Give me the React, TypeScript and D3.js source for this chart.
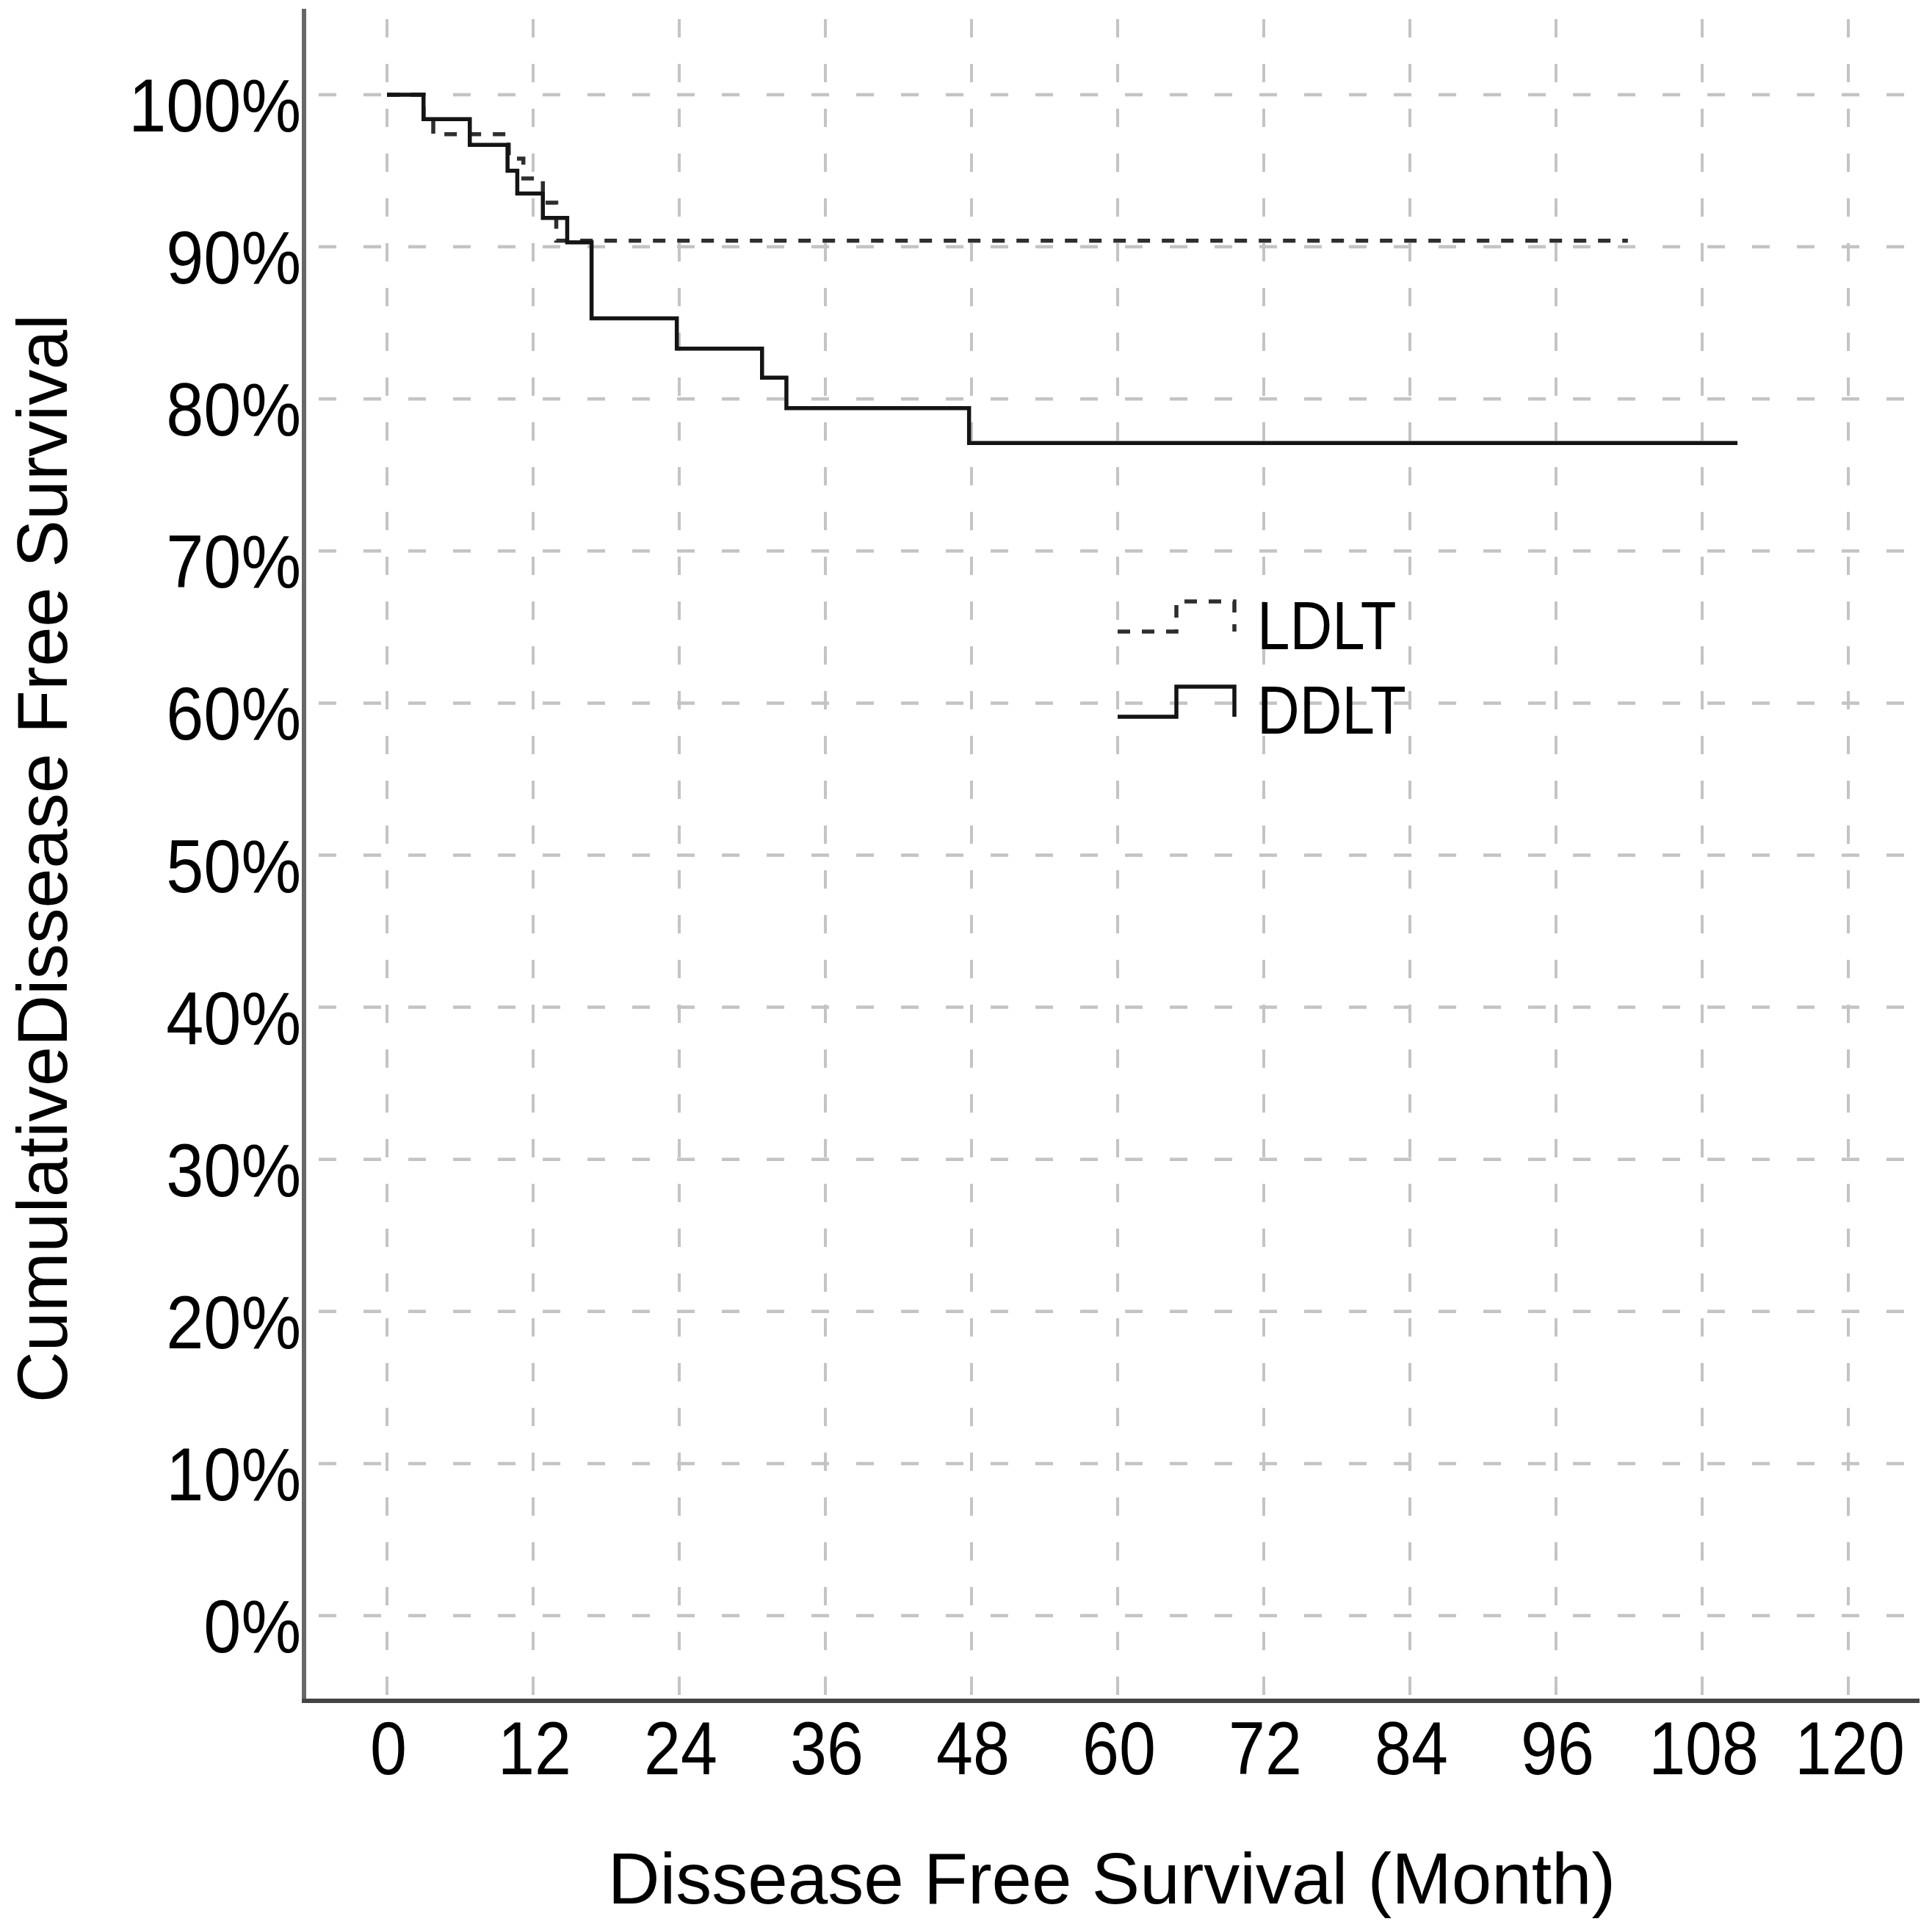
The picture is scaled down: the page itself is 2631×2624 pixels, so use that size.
import * as d3 from 'd3';
import React from 'react';

// time (months) at which each step starts, and survival (%) from that time on
const ldltMonths = [0, 3.0, 3.8, 10.0, 11.2, 12.8, 13.9, 101.9];
const ldltSurvival = [100, 98.4, 97.4, 95.8, 94.5, 92.9, 90.4, 90.4];

const ddltMonths = [0, 3.0, 6.8, 9.9, 10.7, 12.8, 14.8, 16.8, 23.8, 30.8, 32.8, 47.8, 110.9];
const ddltSurvival = [100, 98.4, 96.7, 95.0, 93.5, 91.9, 90.3, 85.3, 83.3, 81.4, 79.4, 77.1, 77.1];

const xTicks = [0, 12, 24, 36, 48, 60, 72, 84, 96, 108, 120];
const yTicks = [0, 10, 20, 30, 40, 50, 60, 70, 80, 90, 100];

const seriesNames = ['LDLT', 'DDLT'];
const xTitle = 'Dissease Free Survival (Month)';
const yTitle = 'CumulativeDissease Free Survival';

const W = 2631;
const H = 2624;
const frame = { left: 414, top: 12, right: 2614, bottom: 2316 };
const FONT = '"Liberation Sans", Arial, sans-serif';

const App = () => {
   const x = d3.scaleLinear().domain([0, 120]).range([527, 2517]);
   const y = d3.scaleLinear().domain([0, 100]).range([2200, 129]);

   const line = d3
      .line<[number, number]>()
      .x((d) => x(d[0]))
      .y((d) => y(d[1]))
      .curve(d3.curveStepAfter);

   const ldlt = ldltMonths.map((m, i) => [m, ldltSurvival[i]] as [number, number]);
   const ddlt = ddltMonths.map((m, i) => [m, ddltSurvival[i]] as [number, number]);

   // legend step symbols
   const legendStep = (y0: number) =>
      `M1522,${y0 + 41}H1602V${y0}H1681V${y0 + 41}`;

   return (
      <svg
         width={W}
         height={H}
         style={{ position: 'absolute', left: 0, top: 0, background: '#fff' }}
      >
         <rect x={0} y={0} width={W} height={H} fill="#fff" />

         {/* grid */}
         <g>
            {yTicks.map((t) => (
               <line
                  key={`h${t}`}
                  x1={frame.left + 4}
                  x2={frame.right}
                  y1={y(t)}
                  y2={y(t)}
                  stroke="#c4c4c4"
                  strokeWidth={4.5}
                  strokeDasharray="24 37"
                  strokeDashoffset={-16}
               />
            ))}
            {xTicks.map((t) => (
               <line
                  key={`v${t}`}
                  x1={x(t)}
                  x2={x(t)}
                  y1={frame.top + 14}
                  y2={frame.bottom}
                  stroke="#c4c4c4"
                  strokeWidth={4}
                  strokeDasharray="25 36"
               />
            ))}
         </g>

         {/* curves */}
         <path
            d={line(ldlt) ?? ''}
            fill="none"
            stroke="#2e2e2e"
            strokeWidth={5.5}
            strokeDasharray="17 16"
         />
         <path d={line(ddlt) ?? ''} fill="none" stroke="#141414" strokeWidth={5.5} />

         {/* axes */}
         <line
            x1={frame.left}
            x2={frame.left}
            y1={frame.top}
            y2={frame.bottom}
            stroke="#666"
            strokeWidth={6}
         />
         <line
            x1={frame.left - 3}
            x2={frame.right}
            y1={frame.bottom}
            y2={frame.bottom}
            stroke="#444"
            strokeWidth={6}
         />

         {/* y tick labels */}
         {yTicks.map((t) => (
            <g key={`yl${t}`} transform={`translate(410,${y(t) + 50}) scale(0.9,1)`}>
               <text fontFamily={FONT} fontSize={102} textAnchor="end" fill="#000">
                  {`${t}%`}
               </text>
            </g>
         ))}

         {/* x tick labels */}
         {xTicks.map((t) => (
            <g key={`xl${t}`} transform={`translate(${x(t) + 2},2416) scale(0.88,1)`}>
               <text fontFamily={FONT} fontSize={102} textAnchor="middle" fill="#000">
                  {t}
               </text>
            </g>
         ))}

         {/* titles */}
         <text
            x={1514}
            y={2592}
            fontFamily={FONT}
            fontSize={98}
            textAnchor="middle"
            fill="#000"
         >
            {xTitle}
         </text>
         <text
            transform="translate(91,1169) rotate(-90)"
            fontFamily={FONT}
            fontSize={97}
            textAnchor="middle"
            fill="#000"
         >
            {yTitle}
         </text>

         {/* legend */}
         <path
            d={legendStep(819)}
            fill="none"
            stroke="#2e2e2e"
            strokeWidth={5.5}
            strokeDasharray="17 16"
         />
         <path d={legendStep(935)} fill="none" stroke="#141414" strokeWidth={5.5} />
         {seriesNames.map((name, i) => (
            <g key={name} transform={`translate(1712,${884 + i * 115}) scale(0.86,1)`}>
               <text fontFamily={FONT} fontSize={93} fill="#000">
                  {name}
               </text>
            </g>
         ))}
      </svg>
   );
};

export default App;
